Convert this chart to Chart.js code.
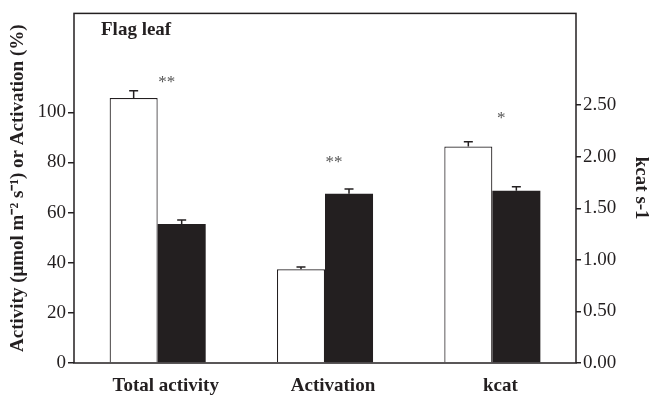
<!DOCTYPE html>
<html>
<head>
<meta charset="utf-8">
<script src="https://cdn.jsdelivr.net/npm/chart.js@4.4.0/dist/chart.umd.min.js"></script>
<style>
  html, body { margin: 0; padding: 0; background: #fff; }
  #wrap { width: 652px; height: 402px; }
</style>
</head>
<body>
<div id="wrap"><canvas id="chart" width="652" height="402"></canvas></div>
<script>
const categories = ["Total activity", "Activation", "kcat"];
// left axis series (activity / activation)
const controlLeft = [105.7, 37.4, null];
const treatLeft = [55.5, 67.5, null];
// right axis series (kcat)
const controlRight = [null, null, 2.10];
const treatRight = [null, null, 1.67];
// upper error bars
const controlErr = [2.9, 0.9, 0.045];
const treatErr = [1.6, 1.9, 0.04];
// significance marks and the value they sit at (on the axis of that category)
const sigLabels = ["**", "**", "*"];
const sigValues = [111.5, 79.5, 2.36];
const sigAxis = ["y", "y", "y1"];
const leftTicks = [0, 20, 40, 60, 80, 100];
const rightTicks = [0, 0.5, 1, 1.5, 2, 2.5];

const serif = "'Liberation Serif', 'Times New Roman', serif";
const ink = "#231f20";

const errorBars = {
  id: "errorBars",
  afterDatasetsDraw(chart) {
    const ctx = chart.ctx;
    const errs = [controlErr, treatErr, controlErr, treatErr];
    ctx.save();
    ctx.strokeStyle = ink;
    ctx.lineWidth = 1.5;
    chart.data.datasets.forEach((ds, i) => {
      const meta = chart.getDatasetMeta(i);
      const scale = chart.scales[ds.yAxisID];
      meta.data.forEach((bar, j) => {
        const v = ds.data[j];
        if (v === null) return;
        const top = scale.getPixelForValue(v + errs[i][j]);
        ctx.beginPath();
        ctx.moveTo(bar.x, bar.y);
        ctx.lineTo(bar.x, top);
        ctx.moveTo(bar.x - 4.5, top);
        ctx.lineTo(bar.x + 4.5, top);
        ctx.stroke();
      });
    });
    // significance stars
    ctx.fillStyle = "#555";
    ctx.font = "17px " + serif;
    ctx.textAlign = "center";
    ctx.textBaseline = "middle";
    sigLabels.forEach((s, j) => {
      const x = chart.scales.x.getPixelForValue(j) + 9;
      const y = chart.scales[sigAxis[j]].getPixelForValue(sigValues[j]) - 1;
      ctx.fillText(s, x, y);
    });
    // frame
    const a = chart.chartArea;
    ctx.strokeStyle = ink;
    ctx.lineWidth = 1.5;
    ctx.strokeRect(a.left, a.top, a.right - a.left, a.bottom - a.top);
    // panel label
    ctx.fillStyle = ink;
    ctx.font = "bold 19px " + serif;
    ctx.textAlign = "left";
    ctx.fillText("Flag leaf", 101, 30);
    ctx.restore();
  }
};

new Chart(document.getElementById("chart"), {
  type: "bar",
  data: {
    labels: categories,
    datasets: [
      { data: controlLeft, yAxisID: "y", backgroundColor: "#fff", borderColor: ink, borderWidth: 1.2 },
      { data: treatLeft, yAxisID: "y", backgroundColor: ink, borderColor: ink, borderWidth: 0 },
      { data: controlRight, yAxisID: "y1", backgroundColor: "#fff", borderColor: ink, borderWidth: 1.2 },
      { data: treatRight, yAxisID: "y1", backgroundColor: ink, borderColor: ink, borderWidth: 0 }
    ]
  },
  options: {
    responsive: false,
    animation: false,
    skipNull: true,
    barPercentage: 1,
    categoryPercentage: 0.574,
    layout: { padding: { top: 6 } },
    plugins: {
      legend: { display: false },
      tooltip: { enabled: false }
    },
    scales: {
      x: {
        grid: { display: false, drawTicks: false },
        border: { display: false },
        ticks: { color: ink, font: { family: serif, size: 19, weight: "bold" }, padding: 12, labelOffset: 8 },
        afterFit(scale) { scale.height = 39; }
      },
      y: {
        position: "left",
        min: 0,
        max: 139.5,
        afterBuildTicks(scale) { scale.ticks = leftTicks.map((v) => ({ value: v })); },
        grid: { drawOnChartArea: false, tickLength: 6, color: ink, lineWidth: 1.5 },
        border: { display: false },
        ticks: { color: ink, font: { family: serif, size: 19 }, padding: 2 },
        title: {
          display: true,
          text: "Activity (μmol m⁻² s⁻¹) or Activation (%)",
          color: ink,
          font: { family: serif, size: 19, weight: "bold" },
          padding: { top: 7, bottom: 0 }
        },
        afterFit(scale) { scale.width = 74; }
      },
      y1: {
        position: "right",
        min: 0,
        max: 3.39,
        afterBuildTicks(scale) { scale.ticks = rightTicks.map((v) => ({ value: v })); },
        grid: { drawOnChartArea: false, tickLength: 5, color: ink, lineWidth: 1.5 },
        border: { display: false },
        ticks: {
          color: ink,
          font: { family: serif, size: 19 },
          padding: 2,
          callback: (v) => Number(v).toFixed(2)
        },
        title: {
          display: true,
          text: "kcat s-1",
          color: ink,
          font: { family: serif, size: 19, weight: "bold" },
          padding: { top: 0, bottom: 3 }
        },
        afterFit(scale) { scale.width = 76; }
      }
    }
  },
  plugins: [errorBars]
});
</script>
</body>
</html>
